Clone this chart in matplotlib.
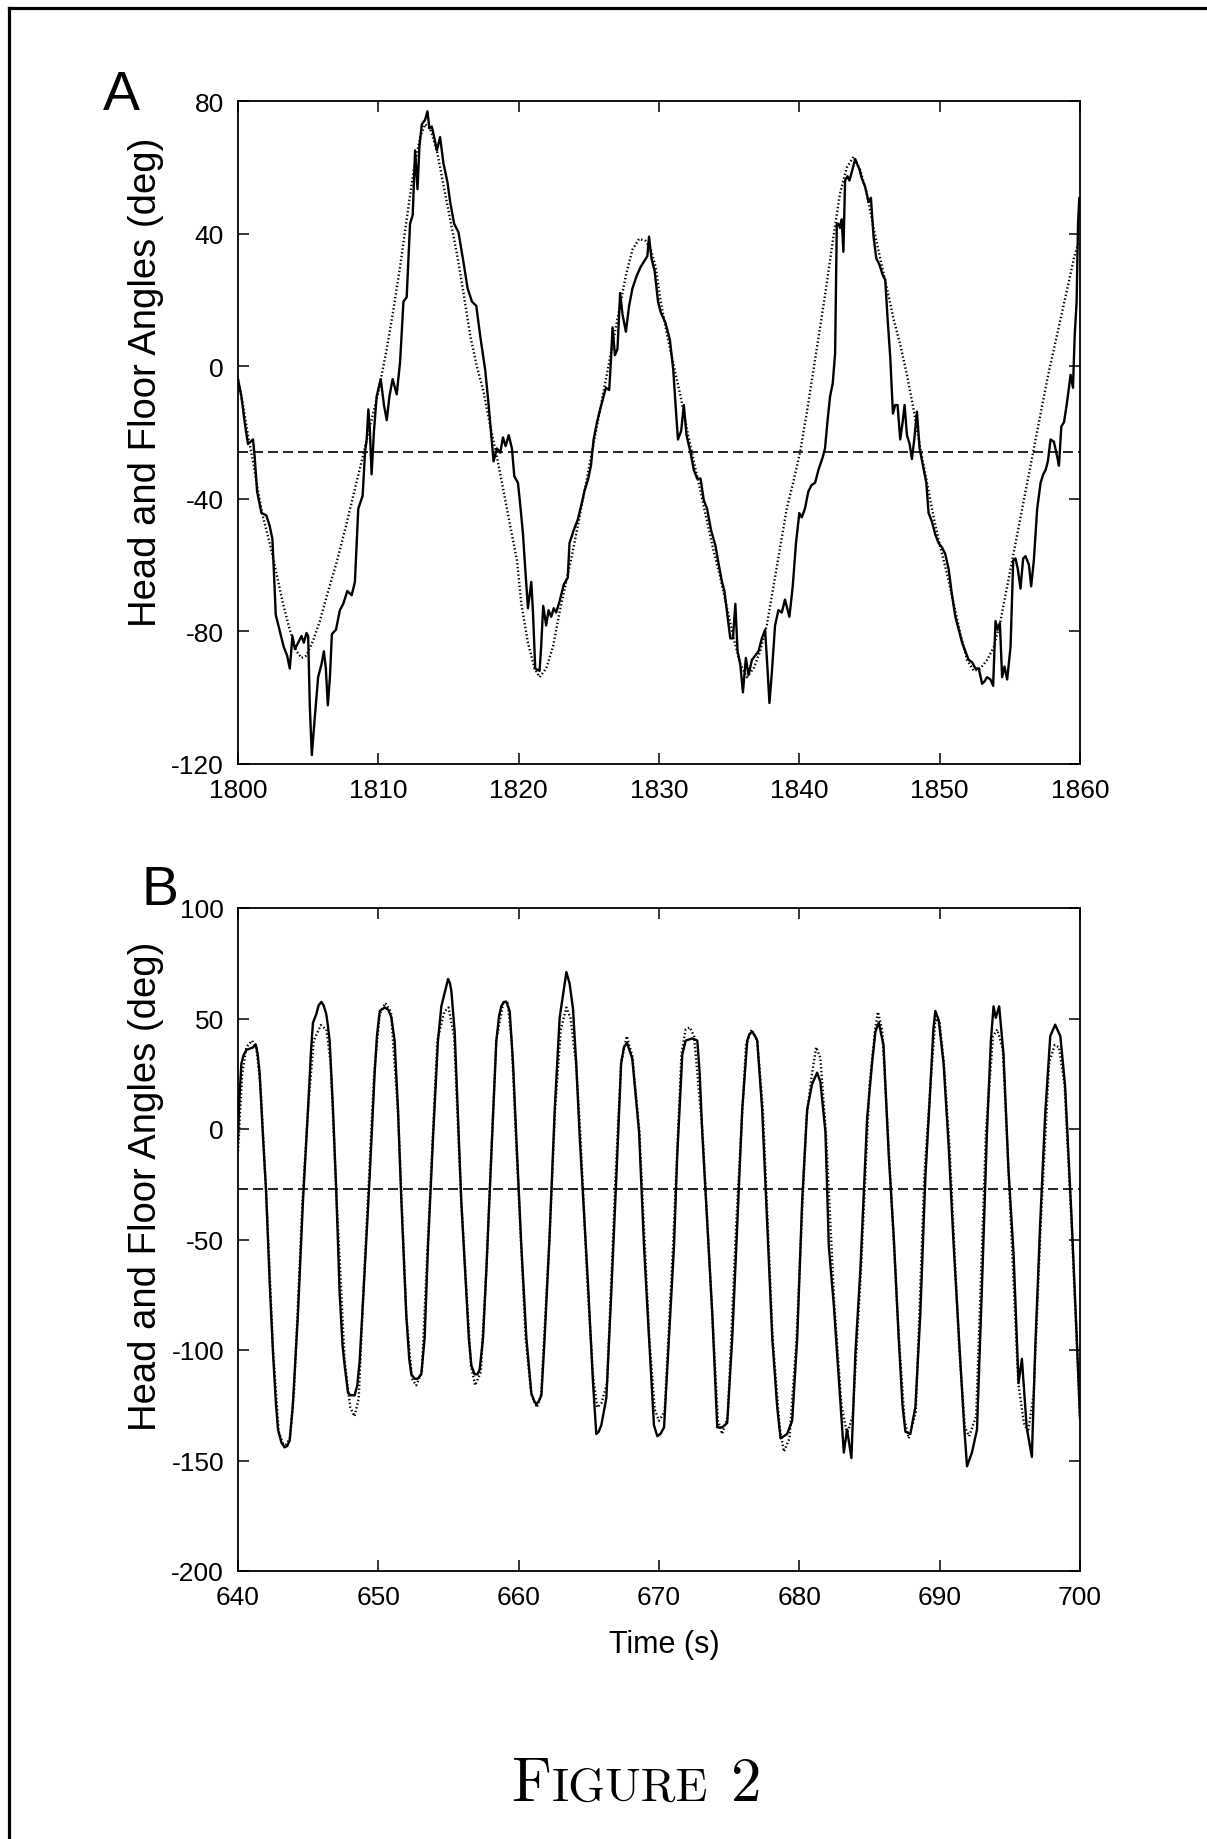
import numpy as np
import matplotlib
matplotlib.use("Agg")
import matplotlib.pyplot as plt
from matplotlib.lines import Line2D
from matplotlib.offsetbox import TextArea, HPacker, AnchoredOffsetbox

plt.rcParams['font.family'] = ['Liberation Sans', 'DejaVu Sans']
plt.rcParams['axes.unicode_minus'] = False

# ---- Panel A: head angle (solid) and floor angle (dotted), t = 1800..1860 s
a_head_t = [
    1800.0, 1800.24, 1800.48, 1800.71, 1801.07, 1801.19, 1801.36, 1801.67, 1802.02, 1802.26,
    1802.45, 1802.55, 1802.69, 1802.98, 1803.26, 1803.5, 1803.69, 1803.88, 1804.05, 1804.29,
    1804.52, 1804.69, 1804.88, 1805.0, 1805.12, 1805.26, 1805.48, 1805.71, 1805.95, 1806.12,
    1806.26, 1806.4, 1806.55, 1806.69, 1806.98, 1807.26, 1807.5, 1807.79, 1808.1, 1808.33,
    1808.57, 1808.88, 1809.05, 1809.17, 1809.29, 1809.4, 1809.52, 1809.69, 1809.88, 1810.17,
    1810.4, 1810.6, 1810.79, 1811.02, 1811.31, 1811.55, 1811.79, 1812.02, 1812.26, 1812.45,
    1812.62, 1812.79, 1812.93, 1813.1, 1813.33, 1813.5, 1813.64, 1813.81, 1813.98, 1814.17,
    1814.4, 1814.64, 1814.93, 1815.12, 1815.4, 1815.71, 1816.07, 1816.36, 1816.67, 1816.98,
    1817.26, 1817.62, 1817.86, 1818.02, 1818.21, 1818.45, 1818.69, 1818.88, 1819.07, 1819.29,
    1819.52, 1819.69, 1819.95, 1820.14, 1820.31, 1820.47, 1820.66, 1820.9, 1821.02, 1821.18,
    1821.49, 1821.6, 1821.75, 1821.96, 1822.13, 1822.32, 1822.5, 1822.67, 1822.91, 1823.22,
    1823.5, 1823.62, 1823.92, 1824.21, 1824.44, 1824.68, 1824.96, 1825.15, 1825.34, 1825.58,
    1825.81, 1826.05, 1826.22, 1826.45, 1826.57, 1826.69, 1826.86, 1827.04, 1827.23, 1827.4,
    1827.64, 1827.87, 1828.11, 1828.42, 1828.7, 1828.98, 1829.17, 1829.29, 1829.46, 1829.69,
    1829.93, 1830.12, 1830.47, 1830.78, 1831.02, 1831.18, 1831.35, 1831.58, 1831.77, 1831.96,
    1832.25, 1832.48, 1832.72, 1832.96, 1833.19, 1833.43, 1833.71, 1834.02, 1834.26, 1834.49,
    1834.66, 1834.85, 1835.08, 1835.27, 1835.44, 1835.6, 1835.79, 1835.98, 1836.19, 1836.38,
    1836.62, 1836.86, 1837.09, 1837.33, 1837.56, 1837.73, 1837.87, 1838.04, 1838.27, 1838.51,
    1838.75, 1838.98, 1839.29, 1839.53, 1839.76, 1840.0, 1840.17, 1840.4, 1840.64, 1840.88,
    1841.12, 1841.36, 1841.67, 1841.83, 1842.0, 1842.19, 1842.38, 1842.55, 1842.67, 1842.79,
    1842.9, 1843.02, 1843.14, 1843.26, 1843.43, 1843.57, 1843.74, 1843.86, 1843.98, 1844.1,
    1844.29, 1844.45, 1844.69, 1844.93, 1845.1, 1845.29, 1845.48, 1845.71, 1845.95, 1846.12,
    1846.29, 1846.48, 1846.67, 1846.83, 1847.0, 1847.19, 1847.36, 1847.5, 1847.67, 1847.86,
    1848.02, 1848.19, 1848.38, 1848.57, 1848.81, 1849.05, 1849.21, 1849.45, 1849.69, 1849.93,
    1850.17, 1850.4, 1850.64, 1850.88, 1851.12, 1851.36, 1851.6, 1851.83, 1852.07, 1852.31,
    1852.55, 1852.79, 1853.02, 1853.19, 1853.38, 1853.62, 1853.81, 1853.98, 1854.14, 1854.29,
    1854.45, 1854.62, 1854.81, 1855.05, 1855.24, 1855.4, 1855.57, 1855.76, 1855.95, 1856.12,
    1856.36, 1856.52, 1856.71, 1856.95, 1857.19, 1857.38, 1857.55, 1857.71, 1857.9, 1858.14,
    1858.38, 1858.5, 1858.67, 1858.86, 1859.05, 1859.21, 1859.33, 1859.5, 1859.62, 1859.76,
    1859.86, 1859.95, 1860.0,
]
a_head_deg = [
    -3.9, -9.1, -17, -23.5, -22.1, -27.4, -37.8, -44.3, -45, -48.2,
    -52.1, -61.2, -75, -80, -84.7, -87.3, -91.2, -81.4, -85.3, -83.4,
    -81.4, -83.4, -80.5, -81.4, -102.9, -117.3, -105.5, -93.8, -89.9, -86,
    -91.2, -102.3, -93.8, -80.8, -79.5, -73.6, -71.7, -67.8, -69.1, -65.1,
    -43, -39.1, -26.1, -22.1, -13, -19.5, -32.6, -19.5, -9.1, -3.9,
    -11.7, -16.3, -9.1, -3.9, -8.5, 1.3, 19.5, 20.8, 43, 45.6,
    65.1, 53.4, 66.4, 73, 74.3, 76.9, 71.7, 72.3, 69.1, 65.1,
    69.1, 61.2, 55.4, 49.5, 43, 40.4, 31.3, 23.5, 19.5, 18.2,
    9.1, -1.3, -11.7, -19.5, -28.7, -24.8, -26.1, -21.5, -24.1, -20.8,
    -24.8, -33.2, -35.2, -43, -50.8, -61.2, -73, -65.1, -74.3, -91.2,
    -91.9, -84.7, -72.3, -78.2, -73.6, -75.6, -73, -74.3, -71, -65.8,
    -63.8, -53.4, -49.5, -46.3, -42.3, -37.8, -33.9, -30, -22.1, -16.9,
    -13, -9.1, -6.5, -7.2, 1.3, 11.7, 3.3, 5.2, 22.1, 15.6,
    10.4, 18.2, 23.5, 27.4, 30, 31.9, 33.2, 39.1, 32.6, 28.7,
    19.5, 16.3, 13, 7.8, -1.3, -11.7, -22.1, -19.5, -11.7, -20.8,
    -26.1, -31.3, -33.9, -33.9, -40.4, -43, -49.5, -54.1, -59.9, -65.1,
    -67.8, -74.3, -82.1, -82.1, -71.7, -86, -89.9, -98.4, -88, -93.2,
    -88.6, -87.3, -86, -82.1, -79.5, -91.2, -101.6, -92.5, -78.2, -73.6,
    -74.3, -70.4, -75.6, -66.4, -53.4, -44.3, -45.6, -43, -37.8, -35.8,
    -35.2, -31.3, -27.4, -24.8, -16.9, -9.1, -5.2, 3.9, 43, 43,
    41.7, 44.3, 34.5, 56, 57.3, 56, 58.6, 60.6, 62.5, 61.2,
    59.3, 56.7, 54.1, 49.5, 50.8, 39.1, 32.6, 30.6, 27.4, 26.1,
    14.3, 2.6, -14.3, -11.7, -11.7, -22.1, -16.9, -11.7, -20.8, -23.5,
    -28, -22.1, -13.7, -24.8, -30, -35.2, -44.3, -46.9, -50.8, -53.4,
    -54.7, -56.7, -61.2, -69.1, -75.6, -79.5, -83.4, -86, -88.6, -89.3,
    -91.2, -91.2, -95.8, -95.1, -93.8, -94.5, -96.4, -76.9, -79.5, -77.5,
    -93.8, -90.6, -94.5, -84.7, -58.6, -58, -61.2, -67.1, -58, -57.3,
    -59.9, -66.4, -58.6, -43, -35.2, -32.6, -31.3, -28.7, -22.1, -22.8,
    -27.4, -30, -18.2, -16.9, -11.7, -6.5, -2.6, -6.5, 9.1, 19.5,
    43, 50.8, 48.2,
]
a_floor_t = [
    1800.0, 1800.36, 1800.71, 1801.07, 1801.43, 1801.79, 1802.26, 1802.74, 1803.21, 1803.69,
    1804.17, 1804.52, 1804.88, 1805.36, 1805.83, 1806.43, 1807.02, 1807.62, 1808.21, 1808.81,
    1809.4, 1810.0, 1810.6, 1811.07, 1811.55, 1812.02, 1812.5, 1812.98, 1813.33, 1813.69,
    1814.17, 1814.64, 1815.12, 1815.6, 1816.07, 1816.55, 1817.02, 1817.5, 1817.98, 1818.45,
    1818.93, 1819.4, 1819.88, 1820.19, 1820.66, 1821.13, 1821.49, 1821.96, 1822.44, 1822.91,
    1823.38, 1823.85, 1824.33, 1824.8, 1825.27, 1825.74, 1826.22, 1826.69, 1827.16, 1827.64,
    1828.11, 1828.58, 1829.05, 1829.41, 1829.76, 1830.12, 1830.59, 1831.06, 1831.54, 1832.01,
    1832.48, 1832.96, 1833.43, 1833.9, 1834.37, 1834.85, 1835.32, 1835.79, 1836.26, 1836.74,
    1837.21, 1837.68, 1838.16, 1838.63, 1839.1, 1839.57, 1840.05, 1840.52, 1841.0, 1841.48,
    1841.95, 1842.43, 1842.9, 1843.38, 1843.86, 1844.33, 1844.81, 1845.29, 1845.76, 1846.24,
    1846.71, 1847.19, 1847.67, 1848.14, 1848.62, 1849.1, 1849.57, 1850.05, 1850.52, 1851.0,
    1851.48, 1851.95, 1852.43, 1852.9, 1853.38, 1853.86, 1854.33, 1854.81, 1855.29, 1855.76,
    1856.24, 1856.71, 1857.19, 1857.67, 1858.14, 1858.62, 1859.1, 1859.57, 1859.93,
]
a_floor_deg = [
    -3.9, -11.7, -20.8, -28.7, -37.8, -45.6, -53.4, -62.5, -71.7, -79.5,
    -86, -88, -87.3, -82.7, -76.9, -67.8, -59.3, -49.5, -39.1, -28.7,
    -18.2, -7.8, 5.2, 16.9, 30, 44.3, 58.6, 69.1, 73, 71.7,
    65.1, 54.7, 44.3, 33.9, 22.1, 9.1, 0, -7.8, -18.2, -27.4,
    -37.8, -48.2, -58.6, -71.7, -83.4, -91.2, -93.8, -91.2, -84.7, -74.3,
    -65.1, -56, -45.6, -35.2, -24.8, -14.3, -3.9, 6.5, 16.9, 27.4,
    35.2, 38.4, 37.8, 35.2, 30, 19.5, 9.1, 0, -9.1, -19.5,
    -28.7, -37.8, -46.9, -56, -63.8, -73, -82.1, -89.9, -93.8, -91.2,
    -86, -78.2, -66.4, -54.7, -43, -35, -26, -14.3, -1.3, 11.7,
    24.8, 39.1, 52.1, 59.9, 63.2, 59.3, 52.1, 41.7, 32.6, 23.5,
    14.3, 6.5, -2.6, -13, -24.8, -35.2, -45.6, -54.7, -62.5, -71.7,
    -80.8, -88.6, -91.9, -91.2, -88.6, -84.7, -76.9, -66.4, -56, -45.6,
    -35.2, -24.8, -14.3, -3.9, 5.2, 14.3, 23.5, 32.6, 37.8,
]
a_mean_deg = -26

# ---- Panel B: t = 640..700 s, head angle as (time, deg) pairs
b_head = [
    (640.0, -5), (640.1, 14), (640.24, 29.6), (640.4, 33.5), (640.6, 35.8),
    (641.07, 36.9), (641.26, 38.3), (641.4, 34), (641.54, 25.5), (641.78, -3.5),
    (642.0, -28), (642.26, -70), (642.5, -102), (642.7, -124), (642.85, -136),
    (643.1, -142), (643.33, -144), (643.5, -143.5), (643.68, -141), (643.9, -125.7),
    (644.27, -84), (644.63, -32.5), (644.99, 8.9), (645.2, 35), (645.34, 48),
    (645.58, 52), (645.75, 56), (645.94, 57.5), (646.1, 56), (646.29, 52),
    (646.4, 47), (646.53, 40), (646.77, 8.9), (647.0, -28), (647.24, -74),
    (647.45, -98), (647.6, -107), (647.84, -119.5), (648.05, -120.5), (648.31, -120.5),
    (648.5, -116), (648.67, -105), (649.03, -63.6), (649.38, -22), (649.74, 25.5),
    (649.9, 42), (650.1, 53.4), (650.45, 55), (650.7, 54), (650.93, 50.5),
    (651.16, 40), (651.4, 8.9), (651.64, -32.5), (651.99, -84), (652.2, -104),
    (652.35, -111), (652.59, -113), (652.8, -113), (653.06, -111), (653.3, -94.6),
    (653.54, -53), (653.9, -3.5), (654.25, 40), (654.49, 55.5), (654.73, 61.7),
    (654.97, 67.9), (655.1, 66), (655.2, 62.7), (655.44, 44), (655.68, 4.8),
    (655.91, -32.5), (656.27, -74), (656.45, -95), (656.63, -107), (656.86, -111),
    (657.05, -111), (657.22, -109), (657.46, -94.6), (657.7, -63.6), (658.05, -11.8),
    (658.41, 40), (658.6, 51), (658.76, 55.5), (658.95, 57.5), (659.12, 57.5),
    (659.36, 53.4), (659.6, 29.6), (659.83, -3.5), (660.19, -53), (660.55, -94.6),
    (660.9, -119.5), (661.1, -123), (661.26, -124.6), (661.45, -123), (661.62, -120.5),
    (661.85, -94.6), (662.2, -49), (662.57, 8.9), (662.92, 50.3), (663.16, 60.7),
    (663.4, 71), (663.63, 65.8), (663.87, 54.5), (664.1, 29.6), (664.35, -3.5),
    (664.7, -43), (664.94, -70), (665.3, -115), (665.53, -138), (665.7, -137),
    (665.89, -134), (666.25, -121.6), (666.6, -74), (666.96, -22), (667.3, 29.6),
    (667.5, 37), (667.72, 39), (668.1, 31.7), (668.58, -1.4), (668.93, -53),
    (669.29, -94.6), (669.64, -134), (669.88, -139), (670.1, -138), (670.36, -135),
    (670.71, -94.6), (671.07, -53), (671.3, -11.8), (671.66, 33.7), (671.9, 40),
    (672.37, 41), (672.73, 40), (672.9, 25), (673.08, -1.4), (673.44, -43),
    (673.8, -84), (674.15, -135), (674.5, -135), (674.86, -133), (675.22, -94.6),
    (675.58, -43), (675.93, 8.9), (676.29, 40), (676.45, 43), (676.64, 44),
    (676.85, 42), (677.0, 40), (677.35, 8.9), (677.71, -43), (678.07, -94.6),
    (678.42, -125.7), (678.66, -140), (679.13, -138), (679.49, -132), (679.85, -94.6),
    (680.2, -32.5), (680.56, 8.9), (680.91, 20.3), (681.27, 25.5), (681.5, 21.3),
    (681.86, -1.4), (682.1, -53), (682.46, -80), (682.93, -123.6), (683.17, -146.4),
    (683.4, -136), (683.71, -148.9), (684.0, -100.8), (684.35, -63.6), (684.83, 4.8),
    (685.18, 29.6), (685.42, 44), (685.66, 48.2), (686.0, 37.9), (686.37, -11.8),
    (686.73, -49), (687.08, -94.6), (687.35, -125), (687.56, -137), (687.91, -138),
    (688.27, -125.7), (688.62, -84), (688.98, -22), (689.34, 19.3), (689.55, 45),
    (689.69, 53.4), (689.93, 49.3), (690.28, 29.6), (690.64, -7.7), (691.0, -53),
    (691.47, -105), (691.75, -135), (691.95, -152.6), (692.3, -146.4), (692.66, -136),
    (693.0, -74), (693.37, -1.4), (693.65, 40), (693.84, 55.5), (694.0, 50.3),
    (694.24, 55.5), (694.55, 33.7), (694.9, -18), (695.27, -57), (695.62, -115),
    (695.86, -104), (696.2, -135), (696.57, -148.4), (696.8, -100.8), (697.16, -43),
    (697.52, 6.8), (697.88, 42), (698.23, 47.2), (698.6, 42), (698.94, 19.3),
    (699.42, -43), (699.77, -94.6), (700.0, -131),
]
b_floor_t = [
    640.0, 640.3, 640.6, 641.0, 641.3, 641.6, 642.0, 642.5, 642.9, 643.3,
    643.7, 644.0, 644.6, 645.0, 645.4, 645.9, 646.3, 646.6, 647.0, 647.6,
    648.0, 648.3, 648.6, 649.0, 649.7, 650.1, 650.5, 650.9, 651.4, 652.0,
    652.4, 652.7, 653.1, 653.5, 654.2, 654.7, 655.0, 655.4, 655.9, 656.6,
    656.9, 657.3, 657.7, 658.4, 658.9, 659.2, 659.5, 659.8, 660.5, 660.9,
    661.3, 661.6, 662.2, 662.6, 663.0, 663.4, 663.7, 664.1, 664.4, 664.9,
    665.3, 665.6, 665.9, 666.3, 666.9, 667.3, 667.7, 668.1, 668.6, 669.3,
    669.7, 670.0, 670.4, 671.0, 671.6, 671.9, 672.2, 672.5, 673.1, 673.8,
    674.2, 674.5, 674.9, 675.5, 676.2, 676.6, 677.0, 677.4, 678.1, 678.6,
    678.9, 679.3, 679.8, 680.5, 680.9, 681.2, 681.5, 681.9, 682.5, 683.0,
    683.4, 683.8, 684.4, 685.0, 685.4, 685.6, 685.9, 686.4, 687.1, 687.5,
    687.8, 688.3, 688.9, 689.4, 689.7, 690.0, 690.3, 690.7, 691.4, 691.8,
    692.1, 692.6, 693.3, 693.8, 694.1, 694.5, 694.9, 695.6, 696.0, 696.3,
    696.7, 697.2, 697.8, 698.2, 698.5, 698.9, 699.4, 700.0,
]
b_floor_deg = [
    -10, 25, 37, 40, 37, 20, -28, -100, -137, -144,
    -140, -118, -32, 10, 40, 47, 45, 30, -28, -105,
    -126, -130, -122, -65, 25, 52, 57, 53, 8, -85,
    -113, -116, -110, -55, 40, 53, 55, 42, -32, -107,
    -116, -110, -63, 40, 57, 58, 40, -3, -95, -120,
    -126, -120, -49, 9, 45, 55, 50, 29, -3, -70,
    -112, -126, -124, -115, -22, 30, 42, 33, -1, -94,
    -127, -132, -128, -53, 34, 45, 46, 42, -1, -84,
    -132, -138, -130, -43, 38, 45, 40, 9, -95, -135,
    -146, -140, -95, 5, 25, 37, 32, -2, -80, -125,
    -138, -130, -63, 20, 45, 53, 45, -12, -95, -132,
    -140, -128, -22, 25, 50, 48, 30, -8, -100, -135,
    -139, -130, -1, 42, 45, 36, -18, -115, -133, -137,
    -120, -43, 30, 38, 37, 20, -43, -130,
]
b_mean_deg = -27.3

a_xticks = [1800, 1810, 1820, 1830, 1840, 1850, 1860]
a_yticks = [-120, -80, -40, 0, 40, 80]
b_xticks = [640, 650, 660, 670, 680, 690, 700]
b_yticks = [-200, -150, -100, -50, 0, 50, 100]

b_head_t = [p[0] for p in b_head]
b_head_deg = [p[1] for p in b_head]

W, H = 1207, 1840
fig = plt.figure(figsize=(W / 100, H / 100), dpi=100)

axA = fig.add_axes([238 / W, 1 - 765 / H, 842 / W, 663 / H])
axB = fig.add_axes([238 / W, 1 - 1572 / H, 842 / W, 663 / H])


def draw_panel(ax, t1, y1, t2, y2, mean, xticks, yticks):
    ax.plot(t2, y2, color='black', lw=1.7, linestyle=(0, (0.6, 1.0)))
    ax.plot(t1, y1, color='black', lw=1.7)
    ax.axhline(mean, color='black', lw=1.2, linestyle=(0, (6, 3)))
    ax.set_xlim(xticks[0], xticks[-1])
    ax.set_ylim(yticks[0], yticks[-1])
    ax.set_xticks(xticks)
    ax.set_yticks(yticks)
    ax.tick_params(direction='in', length=8, width=1.1, top=True, right=True,
                   labelsize=19, pad=10)
    for s in ax.spines.values():
        s.set_linewidth(1.3)


draw_panel(axA, a_head_t, a_head_deg, a_floor_t, a_floor_deg, a_mean_deg,
           a_xticks, a_yticks)
draw_panel(axB, b_head_t, b_head_deg, b_floor_t, b_floor_deg, b_mean_deg,
           b_xticks, b_yticks)

# y labels (sit a bit above the axes centre in the original)
fig.text(146 / W, 1 - 382 / H, 'Head and Floor Angles (deg)', rotation=90,
         ha='center', va='center', fontsize=27.5)
fig.text(146 / W, 1 - 1186 / H, 'Head and Floor Angles (deg)', rotation=90,
         ha='center', va='center', fontsize=27.5)
fig.text(664 / W, 1 - 1645 / H, 'Time (s)', ha='center', va='center', fontsize=22)

# panel letters
fig.text(103 / W, 1 - 110 / H, 'A', ha='left', va='baseline', fontsize=40)
fig.text(141 / W, 1 - 905 / H, 'B', ha='left', va='baseline', fontsize=40)

# page frame (top and left rules)
fig.add_artist(Line2D([8.5 / W, 1], [1 - 8.5 / H, 1 - 8.5 / H],
                      transform=fig.transFigure, color='black', lw=2.3))
fig.add_artist(Line2D([8.5 / W, 8.5 / W], [0, 1 - 8.5 / H],
                      transform=fig.transFigure, color='black', lw=2.3))

# caption in small caps
cap_props = dict(family='cmr10', color='black')
word = HPacker(children=[TextArea('F', textprops=dict(fontsize=44, **cap_props)),
                         TextArea('IGURE', textprops=dict(fontsize=34, **cap_props))],
               align='baseline', pad=0, sep=1)
caption = HPacker(children=[word, TextArea('2', textprops=dict(fontsize=44, **cap_props))],
                  align='baseline', pad=0, sep=16)
fig.add_artist(AnchoredOffsetbox(loc='center', child=caption, frameon=False, pad=0,
                                 borderpad=0, bbox_to_anchor=(636 / W, 1 - 1785 / H),
                                 bbox_transform=fig.transFigure))

fig.savefig('out.png', dpi=100)
